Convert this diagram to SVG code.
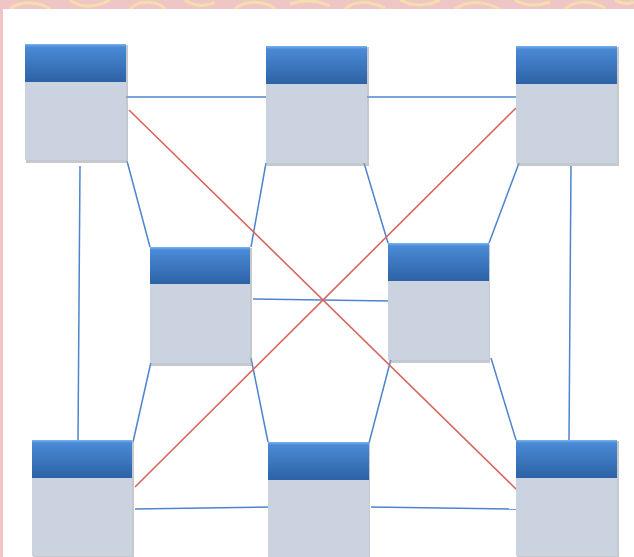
<svg xmlns="http://www.w3.org/2000/svg" width="634" height="557" viewBox="0 0 634 557">
<defs>
<linearGradient id="hdr" x1="0" y1="0" x2="0" y2="1">
<stop offset="0" stop-color="#7ab4f0"/>
<stop offset="0.08" stop-color="#4a8ad6"/>
<stop offset="1" stop-color="#2d62a5"/>
</linearGradient>
<style>
.sh{fill:#9ea3ab;opacity:0.6}
.hd{fill:url(#hdr)}
.bd{fill:#cbd3e0}
.bl{stroke:#4d84cc;stroke-width:1.5;fill:none}
.rd{stroke:#d8665c;stroke-width:1.6;fill:none}
.sw{stroke:#f6e3a6;stroke-width:3;fill:none;opacity:0.8}
</style>
</defs>
<rect x="0" y="0" width="634" height="557" fill="#f0c5c6"/>
<g id="pattern">
<path class="sw" d="M10 9 C20 0 40 2 50 9 M70 0 C80 8 95 8 110 0 M130 9 C140 -2 160 2 165 9 M185 0 Q200 10 215 2 M235 9 C245 0 265 0 275 9 M290 4 Q310 -3 330 6 M345 9 C355 0 370 1 385 8 M400 0 Q420 10 440 0 M455 9 C470 -1 485 2 500 9 M515 0 Q530 9 550 2 M565 9 C575 0 590 0 605 8 M615 0 Q625 6 634 2"/>
</g>
<rect x="3" y="9" width="631" height="548" fill="#ffffff"/>
<g id="connectors">
<line class="bl" x1="123" y1="97" x2="266" y2="97"/>
<line class="bl" x1="364" y1="97" x2="521" y2="97"/>
<line class="bl" x1="80" y1="166" x2="78" y2="440"/>
<line class="bl" x1="571" y1="166" x2="569" y2="440"/>
<line class="bl" x1="127" y1="161" x2="150" y2="247"/>
<line class="bl" x1="266" y1="163" x2="251" y2="247"/>
<line class="bl" x1="364" y1="163" x2="388" y2="243"/>
<line class="bl" x1="519" y1="163" x2="489" y2="243"/>
<line class="bl" x1="253" y1="299" x2="390" y2="301"/>
<line class="bl" x1="151" y1="362" x2="133" y2="442"/>
<line class="bl" x1="251" y1="358" x2="268" y2="442"/>
<line class="bl" x1="391" y1="359" x2="369" y2="443"/>
<line class="bl" x1="491" y1="358" x2="516" y2="440"/>
<line class="bl" x1="135" y1="509" x2="269" y2="507"/>
<line class="bl" x1="371" y1="507" x2="516" y2="509"/>
<line class="rd" x1="129" y1="110" x2="517" y2="490"/>
<line class="rd" x1="516" y1="108" x2="135" y2="487"/>
</g>
<g id="node-tl">
<rect class="sh" x="26" y="45" width="102" height="118"/>
<rect class="bd" x="25" y="82" width="101" height="78"/>
<rect class="hd" x="25" y="44" width="101" height="38"/>
</g>
<g id="node-tm">
<rect class="sh" x="267" y="47" width="102" height="119"/>
<rect class="bd" x="266" y="84" width="101" height="79"/>
<rect class="hd" x="266" y="46" width="101" height="38"/>
</g>
<g id="node-tr">
<rect class="sh" x="517" y="47" width="102" height="119"/>
<rect class="bd" x="516" y="84" width="101" height="79"/>
<rect class="hd" x="516" y="46" width="101" height="38"/>
</g>
<g id="node-ml">
<rect class="sh" x="151" y="248" width="101" height="118"/>
<rect class="bd" x="150" y="284" width="100" height="79"/>
<rect class="hd" x="150" y="247" width="100" height="37"/>
</g>
<g id="node-mr">
<rect class="sh" x="389" y="244" width="101" height="119"/>
<rect class="bd" x="388" y="281" width="101" height="79"/>
<rect class="hd" x="388" y="243" width="101" height="38"/>
</g>
<g id="node-bl">
<rect class="sh" x="33" y="441" width="101" height="117"/>
<rect class="bd" x="32" y="478" width="100" height="78"/>
<rect class="hd" x="32" y="440" width="100" height="38"/>
</g>
<g id="node-bm">
<rect class="sh" x="269" y="443" width="101" height="117"/>
<rect class="bd" x="268" y="480" width="101" height="77"/>
<rect class="hd" x="268" y="442" width="101" height="38"/>
</g>
<g id="node-br">
<rect class="sh" x="517" y="441" width="102" height="117"/>
<rect class="bd" x="516" y="478" width="101" height="78"/>
<rect class="hd" x="516" y="440" width="101" height="38"/>
</g>
</svg>
